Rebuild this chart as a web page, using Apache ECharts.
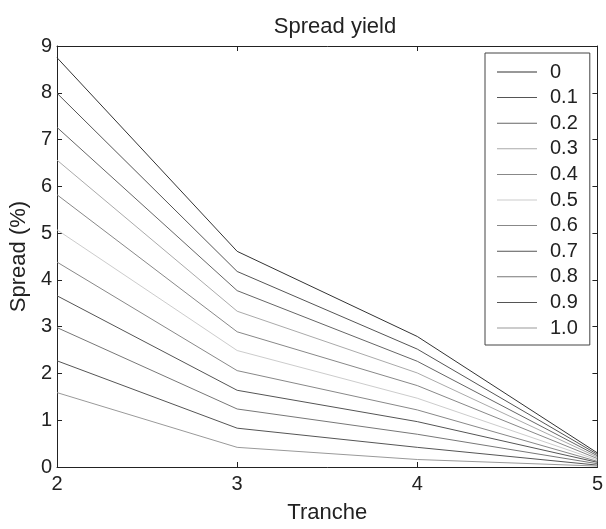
<!DOCTYPE html>
<html>
<head>
<meta charset="utf-8">
<script src="https://cdn.jsdelivr.net/npm/echarts@6/dist/echarts.min.js"></script>
<style>
  html, body { margin: 0; padding: 0; background: #fff; }
  #chart { width: 606px; height: 529px; }
</style>
</head>
<body>
<div id="chart"></div>
<script>
// tranche on x, one line per correlation
const tranches = [2, 3, 4, 5];
const names = ['0', '0.1', '0.2', '0.3', '0.4', '0.5', '0.6', '0.7', '0.8', '0.9', '1.0'];
const s00 = [8.75, 4.61, 2.79, 0.30];
const s01 = [7.99, 4.18, 2.52, 0.27];
const s02 = [7.26, 3.77, 2.26, 0.24];
const s03 = [6.56, 3.33, 2.01, 0.21];
const s04 = [5.82, 2.89, 1.74, 0.18];
const s05 = [5.07, 2.49, 1.47, 0.15];
const s06 = [4.38, 2.06, 1.22, 0.12];
const s07 = [3.66, 1.64, 0.97, 0.10];
const s08 = [2.98, 1.24, 0.70, 0.07];
const s09 = [2.27, 0.83, 0.42, 0.04];
const s10 = [1.59, 0.42, 0.16, 0.02];
const allSeries = [s00, s01, s02, s03, s04, s05, s06, s07, s08, s09, s10];
const greys = ['#333', '#555', '#666', '#aaa', '#888', '#ccc', '#888', '#555', '#777', '#555', '#999'];

const chart = echarts.init(document.getElementById('chart'));

const axisCommon = {
  axisLine: { show: true, onZero: false, lineStyle: { color: '#222', width: 1 } },
  axisTick: { show: true, inside: true, length: 5, lineStyle: { color: '#222' } },
  splitLine: { show: false }
};

const option = {
  animation: false,
  backgroundColor: '#fff',
  title: {
    text: 'Spread yield',
    left: 330,
    top: 11,
    textAlign: 'center',
    textStyle: { fontFamily: 'Liberation Sans', fontSize: 22, fontWeight: 'normal', color: '#222' }
  },
  legend: {
    orient: 'vertical',
    left: 485,
    top: 53,
    width: 112,
    padding: [9, 12, 7, 12],
    itemGap: 5.6,
    itemWidth: 40,
    itemHeight: 1,
    icon: 'rect',
    borderColor: '#444',
    borderWidth: 1,
    backgroundColor: '#fff',
    textStyle: { fontFamily: 'Liberation Sans', fontSize: 20, lineHeight: 20, color: '#222', padding: [0, 0, 0, 8] },
    data: names
  },
  grid: { left: 57, top: 46, right: 3, bottom: 50, containLabel: false },
  xAxis: [
    Object.assign({}, axisCommon, {
      type: 'value', min: 2, max: 5, interval: 1,
      name: 'Tranche', nameLocation: 'middle', nameGap: 35,
      nameTextStyle: { fontFamily: 'Liberation Sans', fontSize: 22, color: '#222' },
      axisLabel: { margin: 7, fontFamily: 'Liberation Sans', fontSize: 20, color: '#222' }
    }),
    Object.assign({}, axisCommon, {
      type: 'value', min: 2, max: 5, interval: 1, position: 'top',
      axisLabel: { show: false }
    })
  ],
  yAxis: [
    Object.assign({}, axisCommon, {
      type: 'value', min: 0, max: 9, interval: 1,
      name: 'Spread (%)', nameLocation: 'middle', nameGap: 24,
      nameTextStyle: { fontFamily: 'Liberation Sans', fontSize: 22, color: '#222' },
      axisLabel: { margin: 5, fontFamily: 'Liberation Sans', fontSize: 20, color: '#222' }
    }),
    Object.assign({}, axisCommon, {
      type: 'value', min: 0, max: 9, interval: 1, position: 'right',
      axisLabel: { show: false }
    })
  ],
  series: allSeries.map((vals, i) => ({
    name: names[i],
    type: 'line',
    symbol: 'none',
    color: greys[i],
    lineStyle: { width: 1, color: greys[i] },
    data: vals.map((v, j) => [tranches[j], v])
  }))
};

chart.setOption(option);
</script>
</body>
</html>
